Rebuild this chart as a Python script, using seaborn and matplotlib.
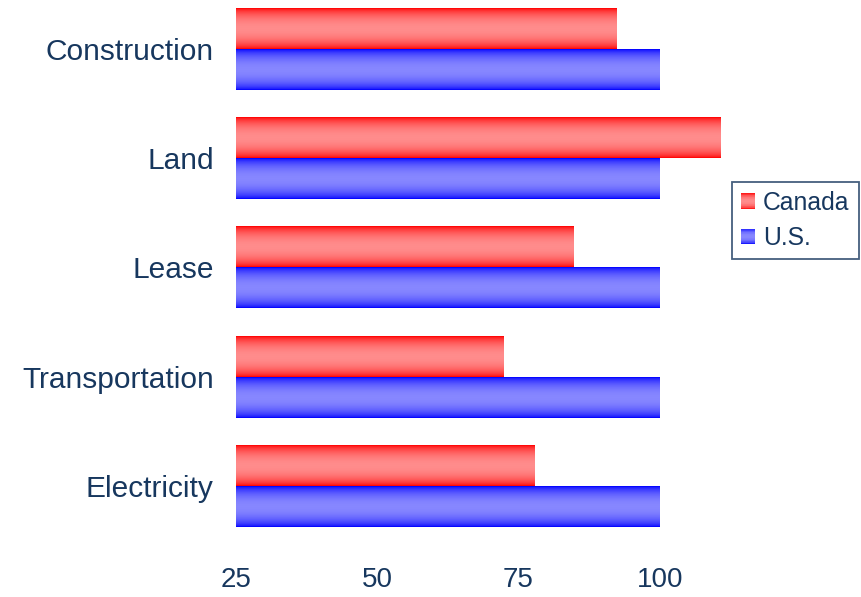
import numpy as np
import pandas as pd
import matplotlib
matplotlib.use("Agg")
import matplotlib.pyplot as plt
import seaborn as sns
from matplotlib.patches import Rectangle
from matplotlib.legend_handler import HandlerPatch

categories = ["Construction", "Land", "Lease", "Transportation", "Electricity"]
canada = [92.3, 110.8, 84.8, 72.4, 77.9]
us = [100, 100, 100, 100, 100]
series = ["Canada", "U.S."]
xticks = [25, 50, 75, 100]

df = pd.DataFrame({
    "Category": categories * 2,
    "Value": canada + us,
    "Series": [series[0]] * len(canada) + [series[1]] * len(us),
})

TEXT = "#17375E"
EDGE = {"Canada": (1.0, 0.0, 0.0), "U.S.": (0.0, 0.0, 1.0)}
MID = {"Canada": (1.0, 0.55, 0.55), "U.S.": (0.53, 0.53, 1.0)}


def grad_color(s, t):
    f = np.sin(np.pi * t) ** 0.6
    e = np.array(EDGE[s]); m = np.array(MID[s])
    return tuple(e + (m - e) * f)


sns.set_theme(style="white")
plt.rcParams['font.family'] = ['Liberation Sans', 'DejaVu Sans']

fig = plt.figure(figsize=(8.61, 5.97), dpi=100)
ax = fig.add_axes([236 / 861, 56 / 597, (801 - 236) / 861, 541 / 597])

sns.barplot(data=df, y="Category", x="Value", hue="Series", order=categories,
            hue_order=series, palette={s: EDGE[s] for s in series},
            width=0.75, orient="h", ax=ax, legend=False, saturation=1)

XLIM = (25, 125)
ylim = (4.503, -0.448)

# gradient fill for each bar, clipped to the bar geometry and the axis range
bars = [p for p in ax.patches if p.get_width() > 0]
nb = len(categories)
for i, p in enumerate(bars):
    s = series[i // nb]
    x0, y0 = p.get_x(), p.get_y()
    w, h = p.get_width(), p.get_height()
    xa = max(x0, XLIM[0])
    xb = min(x0 + w, XLIM[1])
    ts = np.linspace(0, 1, 64)
    img = np.array([[grad_color(s, t)] for t in ts])
    im = ax.imshow(img, extent=(xa, xb, y0 + h, y0), origin="upper",
                   aspect="auto", interpolation="bilinear", zorder=p.get_zorder())
    p.set_facecolor("none")
    p.set_edgecolor("none")

ax.set_xlim(*XLIM)
ax.set_ylim(*ylim)
ax.set_xticks(xticks)
ax.set_xticklabels([str(v) for v in xticks])
ax.set_xlabel("")
ax.set_ylabel("")
for sp in ax.spines.values():
    sp.set_visible(False)
ax.tick_params(axis="x", length=0, pad=19, labelsize=20, labelcolor=TEXT)
ax.tick_params(axis="y", length=0, pad=16, labelsize=21.5, labelcolor=TEXT)
ax.grid(False)


class GradHandler(HandlerPatch):
    def __init__(self, s):
        super().__init__()
        self.s = s

    def create_artists(self, legend, orig_handle, xdescent, ydescent, width,
                       height, fontsize, trans):
        n = 24
        arts = []
        for k in range(n):
            t = 1 - (k + 0.5) / n
            r = Rectangle((-xdescent, -ydescent + height * k / n), width,
                          height / n * 1.05, facecolor=grad_color(self.s, t),
                          edgecolor="none", transform=trans)
            arts.append(r)
        return arts


handles = [Rectangle((0, 0), 1, 1, label=s) for s in series]
leg = ax.legend(handles=handles,
                handler_map={h: GradHandler(s) for h, s in zip(handles, series)},
                loc="upper left", bbox_to_anchor=(732 / 861, 1 - 182 / 597),
                bbox_transform=fig.transFigure, borderaxespad=0,
                fontsize=17.8, labelcolor=TEXT, frameon=True, fancybox=False,
                handlelength=0.58, handleheight=0.58, handletextpad=0.32,
                borderpad=0.36, labelspacing=0.45)
leg.get_frame().set_edgecolor(TEXT)
leg.get_frame().set_linewidth(1.3)

fig.savefig("out.png", dpi=100)
